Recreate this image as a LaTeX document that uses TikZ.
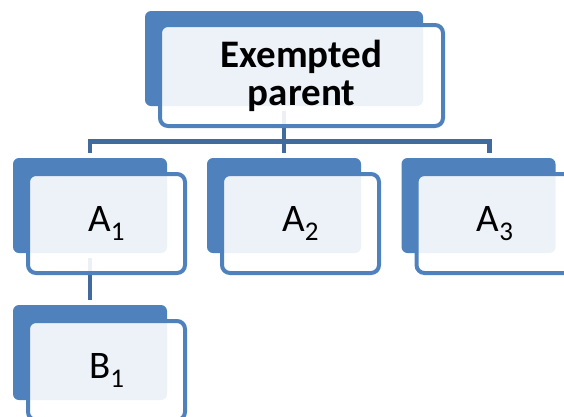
\documentclass[tikz,border=0pt]{standalone}
\usepackage{fontspec}
\setmainfont{Carlito}
\definecolor{backblue}{RGB}{79,129,189}
\definecolor{lineblue}{RGB}{64,107,156}
\newcommand{\lowsub}[1]{\raisebox{-9pt}{\fontsize{27}{27}\selectfont #1}}
\tikzset{
  back/.style={fill=backblue, rounded corners=6pt, inner sep=0pt,
    minimum width=154pt, minimum height=95pt},
  front/.style={draw=backblue, line width=4pt, fill=white, fill opacity=0.9,
    text opacity=1, rounded corners=8pt, inner sep=0pt,
    minimum width=157pt, minimum height=99pt,
    font=\fontsize{39}{44}\selectfont},
  conn/.style={draw=lineblue, line width=4.5pt, shorten <=5pt, shorten >=5pt}
}
\begin{document}
\begin{tikzpicture}[x=1pt,y=-1pt]
            \clip (0,0) rectangle (564,416);
            % back shapes
            \node[back, minimum width=278pt] (topb) at (284,58.5) {};
            \node[back] (a1b) at (90,205.5) {};
            \node[back] (a2b) at (284,205.5) {};
            \node[back] (a3b) at (478.5,205.5) {};
            \node[back] (b1b) at (90,352.5) {};
            % connectors
            \draw[conn] (topb.south) -- ++(0,35.5) -| (a1b.north);
            \draw[conn] (topb.south) -- (a2b.north);
            \draw[conn] (topb.south) -- ++(0,35.5) -| ([xshift=11pt]a3b.north);
            \draw[conn] (a1b.south) -- (b1b.north);
            % front boxes
            \node[front, minimum width=283pt, minimum height=101pt, align=center,
              font=\bfseries\fontsize{39}{38}\selectfont] (top) at (301.5,75.5) {Exempted\\parent};
            \node[front] (a1) at (106.5,223.5) {A\lowsub{1}};
            \node[front] (a2) at (300.5,223.5) {A\lowsub{2}};
            \node[front] (a3) at (495,223.5) {A\lowsub{3}};
            \node[front] (b1) at (106.5,370.5) {B\lowsub{1}};
\end{tikzpicture}
\end{document}
